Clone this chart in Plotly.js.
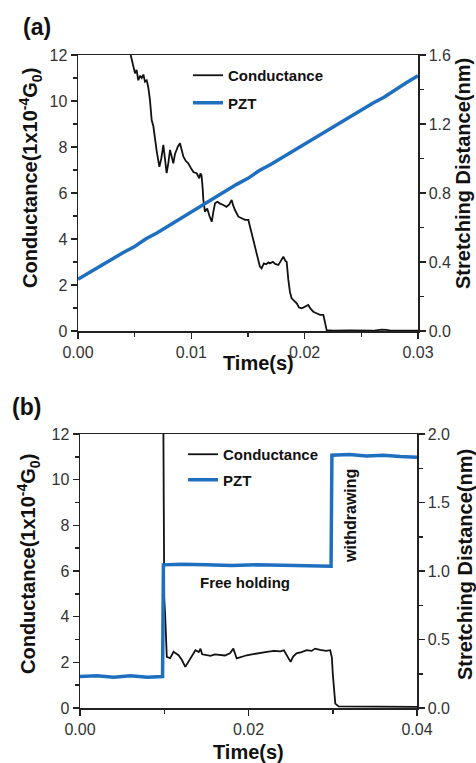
<!DOCTYPE html>
<html>
<head>
<meta charset="utf-8">
<script src="https://cdn.plot.ly/plotly-3.0.1.min.js"></script>
<style>
  html, body { margin: 0; padding: 0; background: #ffffff; }
  #plot { width: 476px; height: 763px; }
</style>
</head>
<body>
<div id="plot"></div>
<script>
// Panel (a): conductance trace while the PZT stretches the junction
const timeA_cond = [0.00465, 0.00485, 0.00503, 0.00517, 0.00532, 0.00547, 0.00562, 0.00577, 0.00591, 0.00606,
  0.00620, 0.00635, 0.00650, 0.00665, 0.00679, 0.00695, 0.00718, 0.00735, 0.00753, 0.00768,
  0.00782, 0.00797, 0.00812, 0.00826, 0.00841, 0.00856, 0.00880, 0.00900, 0.00915, 0.00930,
  0.00950, 0.00973, 0.01000, 0.01020, 0.01047, 0.01060, 0.01070, 0.01080, 0.01090, 0.01100,
  0.01106, 0.01120, 0.01140, 0.01160, 0.01180, 0.01195, 0.01209, 0.01230, 0.01250, 0.01282,
  0.01310, 0.01335, 0.01356, 0.01370, 0.01385, 0.01415, 0.01445, 0.01474, 0.01503, 0.01532,
  0.01562, 0.01575, 0.01591, 0.01605, 0.01620, 0.01640, 0.01660, 0.01680, 0.01694, 0.01720,
  0.01740, 0.01768, 0.01790, 0.01812, 0.01830, 0.01841, 0.01856, 0.01870, 0.01885, 0.01900,
  0.01930, 0.01950, 0.01974, 0.02000, 0.02032, 0.02050, 0.02076, 0.02100, 0.02135, 0.02165,
  0.02180, 0.02194, 0.02250, 0.02400, 0.02600, 0.02680, 0.02720, 0.02760, 0.03000];
const condA = [12.0, 11.6, 11.2, 11.35, 10.9, 11.1, 11.0, 11.15, 10.84, 10.9,
  10.6, 10.04, 9.17, 8.9, 8.3, 7.8, 7.14, 7.5, 8.09, 7.4,
  6.86, 7.3, 7.87, 7.6, 7.29, 7.7, 8.0, 8.16, 7.9, 7.58,
  7.4, 7.29, 7.05, 6.9, 6.86, 6.72, 6.64, 6.85, 6.78, 6.2,
  5.70, 5.19, 5.33, 5.0, 4.75, 5.2, 5.55, 5.62, 5.55, 5.48,
  5.40, 5.5, 5.70, 5.45, 5.26, 4.97, 4.88, 4.83, 4.83, 4.25,
  3.67, 3.3, 3.09, 2.80, 2.72, 2.94, 2.90, 2.98, 2.94, 3.01,
  2.92, 2.87, 3.05, 3.23, 3.05, 3.01, 2.22, 1.70, 1.42, 1.35,
  1.20, 1.02, 0.99, 1.05, 1.13, 0.98, 0.84, 0.78, 0.70, 0.70,
  0.30, 0.04, 0.02, 0.03, 0.01, 0.06, 0.05, 0.02, 0.01];

// Panel (a): PZT stretching distance (nm)
const timeA_pzt = [0.000, 0.001, 0.002, 0.003, 0.004, 0.005, 0.006, 0.007, 0.008, 0.009,
  0.010, 0.011, 0.012, 0.013, 0.014, 0.015, 0.016, 0.017, 0.018, 0.019,
  0.020, 0.021, 0.022, 0.023, 0.024, 0.025, 0.026, 0.027, 0.028, 0.029, 0.030];
const pztA = [0.30, 0.34, 0.38, 0.42, 0.455, 0.49, 0.535, 0.57, 0.61, 0.655,
  0.69, 0.73, 0.77, 0.81, 0.85, 0.885, 0.93, 0.965, 1.005, 1.045,
  1.08, 1.125, 1.16, 1.20, 1.24, 1.28, 1.32, 1.355, 1.40, 1.44, 1.48];

// Panel (b): conductance during free holding and withdrawing
const timeB_cond = [0.0099, 0.00995, 0.0100, 0.0101, 0.0102, 0.0103, 0.0107, 0.0111, 0.0117, 0.0121,
  0.0125, 0.0131, 0.0137, 0.0141, 0.0143, 0.0145, 0.0150, 0.0155, 0.0160, 0.0166,
  0.0172, 0.0178, 0.0182, 0.0186, 0.0192, 0.0198, 0.0204, 0.0210, 0.0216, 0.0222,
  0.0230, 0.0238, 0.0242, 0.0247, 0.0250, 0.0253, 0.0257, 0.0263, 0.0269, 0.0275,
  0.0279, 0.0285, 0.0292, 0.0297, 0.0299, 0.0300, 0.0302, 0.0303, 0.0307, 0.0350, 0.0400];
const condB = [12.0, 6.0, 4.8, 4.15, 3.0, 2.24, 2.18, 2.46, 2.31, 2.1,
  1.80, 2.17, 2.53, 2.45, 2.6, 2.35, 2.31, 2.28, 2.35, 2.31,
  2.3, 2.4, 2.6, 2.17, 2.25, 2.31, 2.35, 2.39, 2.45, 2.46,
  2.5, 2.48, 2.53, 2.2, 2.02, 2.25, 2.39, 2.45, 2.53, 2.5,
  2.6, 2.55, 2.5, 2.53, 2.2, 1.52, 0.6, 0.19, 0.07, 0.05, 0.05];

// Panel (b): PZT stretching distance (nm)
const timeB_pzt = [0.000, 0.002, 0.004, 0.006, 0.008, 0.0098, 0.0099, 0.012, 0.015, 0.018,
  0.021, 0.024, 0.027, 0.0298, 0.0299, 0.032, 0.034, 0.036, 0.038, 0.040];
const pztB = [0.23, 0.235, 0.225, 0.235, 0.225, 0.23, 1.045, 1.05, 1.045, 1.04,
  1.045, 1.04, 1.04, 1.035, 1.845, 1.85, 1.84, 1.845, 1.835, 1.83];

const xTicksA = [0, 0.01, 0.02, 0.03];
const xTicksB = [0, 0.02, 0.04];

const FONT = '"Liberation Sans", Arial, sans-serif';
const BLACK = '#111111';
const BLUE = '#1f6fc0';
const W = 476, H = 763;
const px = x => x / W;
const py = y => 1 - y / H;

const tickFont = { family: FONT, size: 16, color: '#333333' };
const boldFont = (size) => ({ family: FONT, size: size, color: '#111111', weight: 700 });

function axisBase(extra) {
  return Object.assign({
    showgrid: false, zeroline: false, showline: true, linecolor: '#222222', linewidth: 1.5,
    ticks: 'outside', ticklen: 6, tickwidth: 1.5, tickcolor: '#222222',
    tickfont: tickFont, fixedrange: true
  }, extra);
}

// free-standing text placed by its centre
function label(text, x, y, size, angle) {
  return { text: text, x: px(x), y: py(y), xref: 'paper', yref: 'paper', showarrow: false,
    xanchor: 'center', yanchor: 'middle', textangle: angle || 0, font: boldFont(size) };
}

const traces = [
  { x: timeA_cond, y: condA, xaxis: 'x', yaxis: 'y', type: 'scatter', mode: 'lines',
    name: 'Conductance', line: { color: BLACK, width: 1.8 }, legend: 'legend', legendgroup: 'a1' },
  { x: timeA_pzt, y: pztA, xaxis: 'x', yaxis: 'y2', type: 'scatter', mode: 'lines',
    name: 'PZT', line: { color: BLUE, width: 3.5 }, legend: 'legend', legendgroup: 'a2' },
  { x: timeB_cond, y: condB, xaxis: 'x2', yaxis: 'y3', type: 'scatter', mode: 'lines',
    name: 'Conductance', line: { color: BLACK, width: 1.8 }, legend: 'legend2', legendgroup: 'b1' },
  { x: timeB_pzt, y: pztB, xaxis: 'x2', yaxis: 'y4', type: 'scatter', mode: 'lines',
    name: 'PZT', line: { color: BLUE, width: 3.5 }, legend: 'legend2', legendgroup: 'b2' }
];

const layout = {
  width: W, height: H,
  margin: { l: 0, r: 0, t: 0, b: 0 },
  paper_bgcolor: '#ffffff', plot_bgcolor: '#ffffff',
  font: { family: FONT },
  showlegend: true,
  xaxis: axisBase({ domain: [px(78), px(418)], range: [0, 0.03], anchor: 'y', mirror: true,
    tickvals: xTicksA, tickformat: '.2f', minor: { dtick: 0.005, ticks: 'outside', ticklen: 4, tickcolor: '#222222' } }),
  yaxis: axisBase({ domain: [py(331), py(55)], range: [0, 12], anchor: 'x', mirror: true,
    dtick: 2, minor: { dtick: 1, ticks: 'outside', ticklen: 4, tickcolor: '#222222' } }),
  yaxis2: axisBase({ overlaying: 'y', side: 'right', anchor: 'x', range: [0, 1.6],
    dtick: 0.4, tickformat: '.1f', minor: { dtick: 0.2, ticks: 'outside', ticklen: 4, tickcolor: '#222222' } }),
  xaxis2: axisBase({ domain: [px(80), px(417)], range: [0, 0.04], anchor: 'y3', mirror: true,
    tickvals: xTicksB, tickformat: '.2f', minor: { dtick: 0.01, ticks: 'outside', ticklen: 4, tickcolor: '#222222' } }),
  yaxis3: axisBase({ domain: [py(708), py(434)], range: [0, 12], anchor: 'x2', mirror: true,
    dtick: 2, minor: { dtick: 1, ticks: 'outside', ticklen: 4, tickcolor: '#222222' } }),
  yaxis4: axisBase({ overlaying: 'y3', side: 'right', anchor: 'x2', range: [0, 2],
    dtick: 0.5, tickformat: '.1f', minor: { dtick: 0.25, ticks: 'outside', ticklen: 4, tickcolor: '#222222' } }),
  legend: { x: px(188), y: py(59), xanchor: 'left', yanchor: 'top', bgcolor: 'rgba(0,0,0,0)',
    borderwidth: 0, font: boldFont(15), traceorder: 'grouped', tracegroupgap: 5, itemwidth: 30 },
  legend2: { x: px(183), y: py(438), xanchor: 'left', yanchor: 'top', bgcolor: 'rgba(0,0,0,0)',
    borderwidth: 0, font: boldFont(15), traceorder: 'grouped', tracegroupgap: 3, itemwidth: 30 },
  annotations: [
    label('(a)', 37, 27, 23),
    label('(b)', 26, 407, 23),
    label('Conductance(1x10<sup>-4</sup>G<sub>0</sub>)', 30, 178, 20, -90),
    label('Stretching Distance(nm)', 463, 174, 20, -90),
    label('Time(s)', 258, 363, 20),
    label('Conductance(1x10<sup>-4</sup>G<sub>0</sub>)', 28, 564, 20, -90),
    label('Stretching Distance(nm)', 465, 565, 20, -90),
    label('Time(s)', 248, 752, 20),
    label('Free holding', 245, 582, 15),
    label('withdrawing', 350, 516, 16, -90)
  ]
};

Plotly.newPlot('plot', traces, layout, { displayModeBar: false, staticPlot: true });
</script>
</body>
</html>
